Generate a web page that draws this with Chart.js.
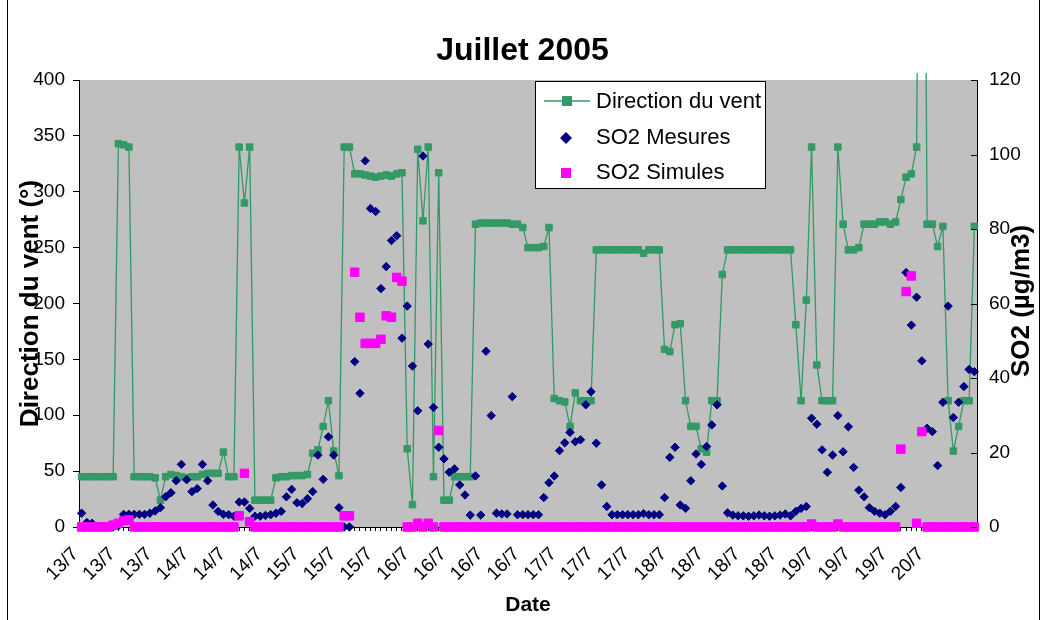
<!DOCTYPE html>
<html>
<head>
<meta charset="utf-8">
<title>Juillet 2005</title>
<script src="https://cdn.jsdelivr.net/npm/chart.js@4.4.1/dist/chart.umd.min.js"></script>
<style>
  html, body { margin: 0; padding: 0; background: #fff; }
</style>
</head>
<body>
<canvas id="graph" width="1045" height="620"></canvas>
<script>
// tick labels shown on the date axis, one every 7 hours
var dayTicks = ['13/7','13/7','13/7','14/7','14/7','14/7','15/7','15/7','15/7',
  '16/7','16/7','16/7','16/7','17/7','17/7','17/7','18/7','18/7','18/7','18/7',
  '19/7','19/7','19/7','20/7'];
var tickEvery = 7;

// Direction du vent (deg), hourly from 13/7 9h
var windDir = [
  45,45,45,45,45,45,45,343,342,340,
  45,45,45,45,44,24,45,47,46,45,
  44,45,45,47,48,48,48,67,45,45,
  340,290,340,24,24,24,24,44,45,45,
  46,46,46,47,66,69,90,113,68,46,
  340,340,316,316,315,314,313,314,315,314,
  316,317,70,20,338,274,340,45,317,24,
  24,45,45,45,45,271,272,272,272,272,
  272,272,271,271,268,250,250,250,251,268,
  115,113,112,90,120,113,113,113,248,248,
  248,248,248,248,248,248,248,245,248,248,
  248,159,157,181,182,113,90,90,70,67,
  113,113,226,248,248,248,248,248,248,248,
  248,248,248,248,248,248,181,113,203,340,
  145,113,113,113,340,271,248,248,250,271,
  271,271,273,273,271,273,293,313,316,340,
  999,271,271,251,269,113,68,90,113,113,
  269
];

// SO2 mesures (ug/m3)
var so2Mesures = [
  3.7,1.2,1.0,0.2,0,0,0,0.3,3.4,3.4,
  3.4,3.4,3.4,3.7,4.3,5.2,8.1,9.2,12.4,16.8,
  12.7,9.5,10.3,16.8,12.4,5.9,4.2,3.4,3.3,2.9,
  6.7,6.7,5.0,2.9,2.9,3.1,3.3,3.7,4.2,8.1,
  10.1,6.5,6.3,7.6,9.5,19.3,12.8,24.2,19.3,5.2,
  0,0,44.4,35.9,98.3,85.5,84.7,64.0,69.9,76.9,
  78.2,50.7,59.3,43.2,31.2,99.6,49.1,32.1,21.4,18.3,
  14.7,15.6,11.3,8.6,3.2,13.7,3.2,47.2,29.9,3.7,
  3.5,3.5,35.0,3.3,3.3,3.3,3.3,3.3,7.9,11.9,
  13.7,20.5,22.6,25.4,22.9,23.4,32.8,36.3,22.5,11.3,
  5.5,3.3,3.3,3.3,3.3,3.3,3.3,3.6,3.3,3.3,
  3.3,7.9,18.7,21.4,5.9,5.0,12.4,19.6,16.8,21.6,
  27.4,32.8,11.0,3.8,3.2,3.0,3.0,2.9,3.0,3.2,
  3.0,2.9,3.0,3.2,3.5,3.0,4.2,5.0,5.5,29.2,
  27.6,20.7,14.7,19.3,29.9,20.2,26.9,16.0,9.9,8.1,
  5.2,4.2,3.7,3.3,4.2,5.5,10.6,68.3,54.2,61.7,
  44.6,26.5,25.6,16.5,33.5,59.3,29.4,33.5,37.7,42.3,
  41.7
];

// SO2 simules (ug/m3)
var so2Simules = [
  0,0,0,0,0,0,0.5,1.0,1.7,1.9,
  0,0,0,0,0,0,0,0,0,0,
  0,0,0,0,0,0,0,0,0,0,
  3.0,14.4,1.4,0,0,0,0,0,0,0,
  0,0,0,0,0,0,0,0,0,0,
  3.0,3.0,68.4,56.3,49.3,49.3,49.3,50.4,56.7,56.3,
  67.0,66.0,0,0,1.0,0,1.0,0,25.9,0,
  0,0,0,0,0,0,0,0,0,0,
  0,0,0,0,0,0,0,0,0,0,
  0,0,0,0,0,0,0,0,0,0,
  0,0,0,0,0,0,0,0,0,0,
  0,0,0,0,0,0,0,0,0,0,
  0,0,0,0,0,0,0,0,0,0,
  0,0,0,0,0,0,0,0,0,0.8,
  0,0,0,0,0.8,0,0,0,0,0,
  0,0,0,0,0,0,20.9,63.2,67.4,1.0,
  25.6,0,0,0,0,0,0,0,0,0,
  0
];

var hours = [];
for (var i = 0; i < windDir.length; i++) {
  var h = 9 + i;
  hours.push((13 + Math.floor(h / 24)) + '/7 ' + (h % 24) + 'h');
}

var FONT = "'Liberation Sans', Arial, sans-serif";
var GREEN = '#339966';
var NAVY = '#000080';
var PINK = '#FF00FF';

// gray plot area, legend box, right title, frame
var decor = {
  id: 'decor',
  beforeDraw: function(chart) {
    var ctx = chart.ctx, a = chart.chartArea;
    ctx.save();
    ctx.fillStyle = '#fff';
    ctx.fillRect(0, 0, chart.width, chart.height);
    ctx.fillStyle = '#C0C0C0';
    ctx.fillRect(a.left, a.top, a.right - a.left, a.bottom - a.top);
    ctx.restore();
  },
  afterDraw: function(chart) {
    var ctx = chart.ctx, a = chart.chartArea;
    var yR = chart.scales.yR;
    ctx.save();

    // inner ticks of the secondary axis
    ctx.strokeStyle = '#000';
    ctx.lineWidth = 1;
    for (var v = 0; v <= 120; v += 20) {
      var y = Math.round(yR.getPixelForValue(v)) + 0.5;
      ctx.beginPath();
      ctx.moveTo(a.right - 6, y);
      ctx.lineTo(a.right, y);
      ctx.stroke();
    }

    // frame
    ctx.beginPath();
    ctx.moveTo(7.5, 0); ctx.lineTo(7.5, 620);
    ctx.moveTo(1039.5, 0); ctx.lineTo(1039.5, 620);
    ctx.stroke();

    // right axis title, reading upwards
    ctx.translate(1022, 301);
    ctx.rotate(-Math.PI / 2);
    ctx.fillStyle = '#000';
    ctx.font = 'bold 26px ' + FONT;
    ctx.textAlign = 'center';
    ctx.textBaseline = 'middle';
    ctx.fillText('SO2 (\u00b5g/m3)', 0, 0);
    ctx.setTransform(1, 0, 0, 1, 0, 0);

    // legend
    ctx.fillStyle = '#fff';
    ctx.fillRect(535.5, 81.5, 230, 107);
    ctx.strokeStyle = '#000';
    ctx.strokeRect(535.5, 81.5, 230, 107);

    ctx.strokeStyle = GREEN;
    ctx.lineWidth = 1.3;
    ctx.beginPath();
    ctx.moveTo(544, 101); ctx.lineTo(590, 101);
    ctx.stroke();
    ctx.fillStyle = GREEN;
    ctx.fillRect(562, 96, 10, 10);

    ctx.fillStyle = NAVY;
    ctx.beginPath();
    ctx.moveTo(566, 132); ctx.lineTo(572, 138); ctx.lineTo(566, 144); ctx.lineTo(560, 138);
    ctx.closePath();
    ctx.fill();

    ctx.fillStyle = PINK;
    ctx.fillRect(561, 168, 10, 10);

    ctx.fillStyle = '#000';
    ctx.font = '22px ' + FONT;
    ctx.textAlign = 'left';
    ctx.textBaseline = 'middle';
    ctx.fillText('Direction du vent', 596, 102);
    ctx.fillText('SO2 Mesures', 596, 138);
    ctx.fillText('SO2 Simules', 596, 173);
    ctx.restore();
  }
};

var ctx = document.getElementById('graph').getContext('2d');

var chart = new Chart(ctx, {
  type: 'line',
  data: {
    labels: hours,
    datasets: [
      {
        label: 'Direction du vent',
        data: windDir,
        yAxisID: 'yL',
        order: 2,
        borderColor: GREEN,
        borderWidth: 1.3,
        backgroundColor: GREEN,
        pointStyle: 'rect',
        pointRadius: 4.6,
        pointBorderWidth: 1,
        pointBorderColor: GREEN,
        pointBackgroundColor: GREEN,
        tension: 0,
        clip: { left: 4, right: 4, top: 7, bottom: 4 }
      },
      {
        label: 'SO2 Mesures',
        data: so2Mesures,
        yAxisID: 'yR',
        order: 1,
        showLine: false,
        pointStyle: 'rectRot',
        pointRadius: 4.2,
        pointBorderWidth: 1,
        pointBorderColor: NAVY,
        pointBackgroundColor: NAVY,
        backgroundColor: NAVY,
        borderColor: NAVY,
        clip: 6
      },
      {
        label: 'SO2 Simules',
        data: so2Simules,
        yAxisID: 'yR',
        order: 0,
        showLine: false,
        pointStyle: 'rect',
        pointRadius: 6,
        pointBorderWidth: 1,
        pointBorderColor: PINK,
        pointBackgroundColor: PINK,
        backgroundColor: PINK,
        borderColor: PINK,
        clip: 6
      }
    ]
  },
  options: {
    responsive: false,
    animation: false,
    events: [],
    layout: { padding: 0 },
    plugins: {
      legend: { display: false },
      tooltip: { enabled: false },
      title: {
        display: true,
        text: 'Juillet 2005',
        color: '#000',
        font: { family: FONT, size: 32, weight: 'bold' },
        padding: { top: 32, bottom: 9.6 }
      }
    },
    scales: {
      x: {
        type: 'category',
        offset: true,
        grid: { display: true, drawOnChartArea: false, tickLength: 4, color: '#000' },
        border: { display: true, color: '#000', width: 1 },
        ticks: {
          autoSkip: false,
          minRotation: 45,
          maxRotation: 45,
          padding: 12,
          labelOffset: -6,
          color: '#000',
          font: { family: FONT, size: 19 },
          callback: function(value, index) {
            return index % tickEvery === 0 ? dayTicks[index / tickEvery] : '';
          }
        },
        title: {
          display: true,
          text: 'Date',
          color: '#000',
          font: { family: FONT, size: 21, weight: 'bold' },
          padding: { top: 0, bottom: 2 }
        },
        afterFit: function(scale) { scale.height = 93; }
      },
      yL: {
        position: 'left',
        min: 0,
        max: 400,
        grid: { drawOnChartArea: false, tickLength: 6, color: '#000' },
        border: { display: true, color: '#000', width: 1 },
        ticks: { stepSize: 50, padding: 8, color: '#000', font: { family: FONT, size: 19 } },
        title: {
          display: true,
          text: 'Direction du vent (\u00b0)',
          color: '#000',
          font: { family: FONT, size: 26, weight: 'bold' },
          padding: { top: 15, bottom: 0 }
        },
        afterFit: function(scale) { scale.width = 79; }
      },
      yR: {
        position: 'right',
        min: 0,
        max: 120,
        grid: { display: false, drawTicks: false },
        border: { display: true, color: '#000', width: 1 },
        ticks: { stepSize: 20, padding: 12, color: '#000', font: { family: FONT, size: 19 } },
        afterFit: function(scale) { scale.width = 68; }
      }
    }
  },
  plugins: [decor]
});
</script>
</body>
</html>
